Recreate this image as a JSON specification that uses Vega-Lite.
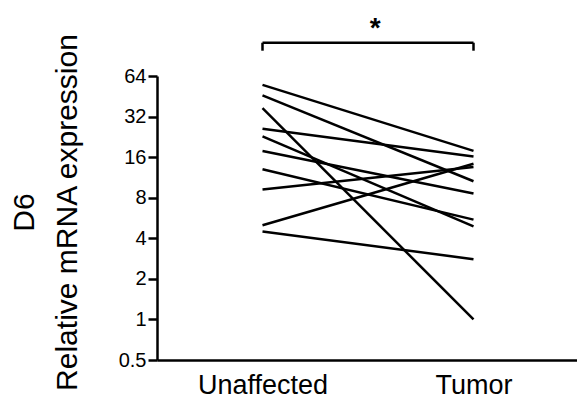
{
  "$schema": "https://vega.github.io/schema/vega-lite/v6.json",
  "width": 422,
  "height": 284,
  "autosize": "none",
  "padding": {"left": 157, "top": 76, "right": 0, "bottom": 41},
  "config": {"view": {"stroke": null}, "font": "Liberation Sans"},
  "datasets": {
    "pairs": [
      {"sample": 1, "group": "Unaffected", "value": 55}, {"sample": 1, "group": "Tumor", "value": 17.8},
      {"sample": 2, "group": "Unaffected", "value": 46}, {"sample": 2, "group": "Tumor", "value": 10.6},
      {"sample": 3, "group": "Unaffected", "value": 37}, {"sample": 3, "group": "Tumor", "value": 1.0},
      {"sample": 4, "group": "Unaffected", "value": 26}, {"sample": 4, "group": "Tumor", "value": 16.2},
      {"sample": 5, "group": "Unaffected", "value": 22.8}, {"sample": 5, "group": "Tumor", "value": 4.9},
      {"sample": 6, "group": "Unaffected", "value": 17.8}, {"sample": 6, "group": "Tumor", "value": 8.6},
      {"sample": 7, "group": "Unaffected", "value": 13.0}, {"sample": 7, "group": "Tumor", "value": 5.5},
      {"sample": 8, "group": "Unaffected", "value": 9.2}, {"sample": 8, "group": "Tumor", "value": 13.5},
      {"sample": 9, "group": "Unaffected", "value": 5.0}, {"sample": 9, "group": "Tumor", "value": 14.3},
      {"sample": 10, "group": "Unaffected", "value": 4.5}, {"sample": 10, "group": "Tumor", "value": 2.8}
    ],
    "bracket": [{"from": "Unaffected", "to": "Tumor", "level": 113}],
    "bracketEnds": [
      {"group": "Unaffected", "top": 113, "bottom": 98.6},
      {"group": "Tumor", "top": 113, "bottom": 98.6}
    ],
    "star": [{"pos": 0.517, "level": 123.6, "label": "*"}]
  },
  "layer": [
    {
      "layer": [
        {
          "data": {"name": "pairs"},
          "mark": {"type": "line", "color": "black", "strokeWidth": 2.5},
          "encoding": {
            "x": {
              "field": "group", "type": "nominal",
              "sort": ["Unaffected", "Tumor"],
              "scale": {"type": "point", "padding": 0.5, "domain": ["Unaffected", "Tumor"]},
              "axis": {
                "title": null, "labelAngle": 0, "labelFontSize": 27, "labelColor": "black",
                "ticks": false, "tickSize": 0, "labelPadding": 12,
                "domainColor": "black", "domainWidth": 2.5, "grid": false
              }
            },
            "y": {
              "field": "value", "type": "quantitative",
              "scale": {"type": "log", "base": 2, "domain": [0.5, 64]},
              "axis": {
                "values": [0.5, 1, 2, 4, 8, 16, 32, 64], "format": "~g",
                "grid": false, "labelFontSize": 20, "labelColor": "black", "labelPadding": 2,
                "tickSize": 9, "tickWidth": 2.5, "tickColor": "black",
                "domainColor": "black", "domainWidth": 2.5,
                "title": ["D6", "Relative mRNA expression"],
                "titleFontSize": 30, "titleFontWeight": "normal", "titleColor": "black",
                "titleLineHeight": 43, "titleAngle": -90, "titleAlign": "center",
                "titleBaseline": "alphabetic", "titleX": -124, "titleY": 136
              }
            },
            "detail": {"field": "sample", "type": "nominal"}
          }
        },
        {
          "data": {"name": "bracket"},
          "mark": {"type": "rule", "color": "black", "strokeWidth": 2.5},
          "encoding": {
            "x": {"field": "from", "type": "nominal"},
            "x2": {"field": "to"},
            "y": {"field": "level", "type": "quantitative"}
          }
        },
        {
          "data": {"name": "bracketEnds"},
          "mark": {"type": "rule", "color": "black", "strokeWidth": 2.5},
          "encoding": {
            "x": {"field": "group", "type": "nominal"},
            "y": {"field": "top", "type": "quantitative"},
            "y2": {"field": "bottom"}
          }
        }
      ]
    },
    {
      "data": {"name": "star"},
      "mark": {"type": "text", "fontSize": 28, "fontWeight": "bold", "color": "black", "baseline": "alphabetic", "align": "center"},
      "encoding": {
        "x": {"field": "pos", "type": "quantitative", "scale": {"domain": [0, 1]}, "axis": null},
        "y": {"field": "level", "type": "quantitative"},
        "text": {"field": "label"}
      }
    }
  ],
  "resolve": {"scale": {"x": "independent"}}
}
